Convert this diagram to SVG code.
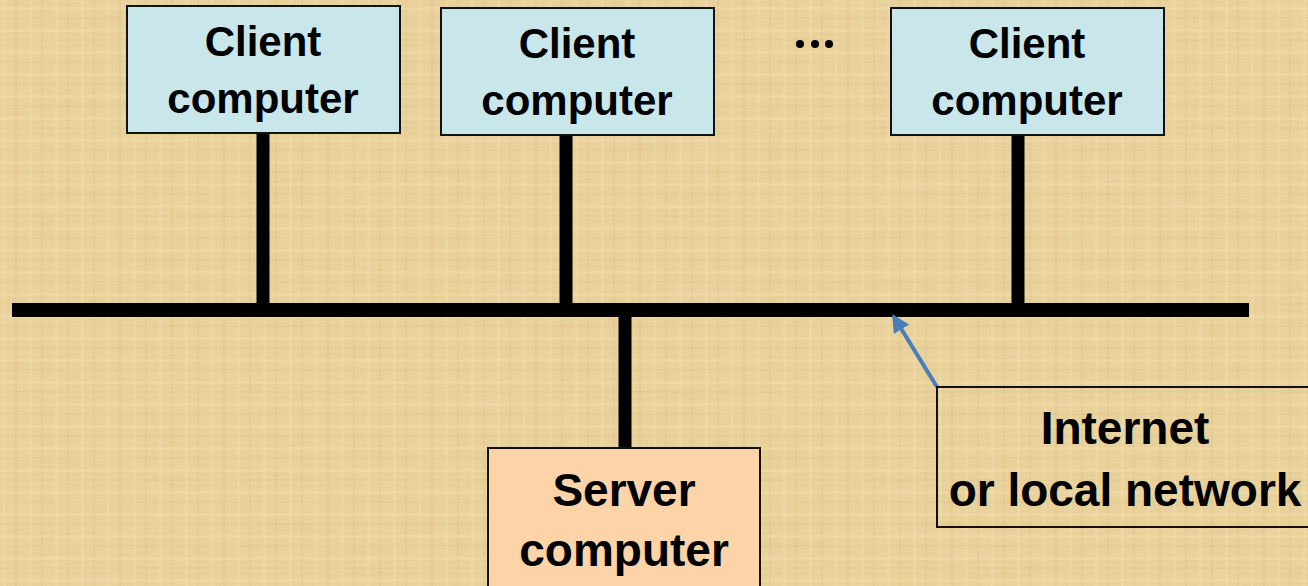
<svg xmlns="http://www.w3.org/2000/svg" width="1308" height="586" viewBox="0 0 1308 586">
  <defs>
    <style>
      .client { fill: #C9E6EA; stroke: #111; stroke-width: 2; }
      .server { fill: #FCD4A8; stroke: #111; stroke-width: 2; }
      .label-box { fill: none; stroke: #111; stroke-width: 2; }
      .wire { stroke: #000; stroke-width: 14; fill: none; }
      .drop { stroke: #000; stroke-width: 13; fill: none; }
      .pointer { stroke: #4A7EBB; stroke-width: 4; fill: none; }
      text { font-family: "Liberation Sans", Arial, sans-serif; font-weight: bold; fill: #000; text-anchor: middle; }
      .t42 { font-size: 42px; }
      .t46 { font-size: 46px; }
    </style>
    <marker id="arrowhead" viewBox="0 0 10 10" refX="8" refY="5" markerWidth="4.5" markerHeight="4.5" orient="auto">
      <path d="M0,0 L10,5 L0,10 z" fill="#4A7EBB"/>
    </marker>
    <!-- parchment weave -->
    <pattern id="weave" width="26" height="22" patternUnits="userSpaceOnUse">
      <rect width="26" height="22" fill="#E8CF97"/>
      <rect x="3" width="3" height="22" fill="#F1DDAA" opacity="0.45"/>
      <rect x="15" width="2" height="22" fill="#D8BC82" opacity="0.3"/>
      <rect y="7" width="26" height="3" fill="#F2E0AF" opacity="0.35"/>
      <rect y="17" width="26" height="2" fill="#D6BA80" opacity="0.25"/>
    </pattern>
    <filter id="grain" x="0" y="0" width="100%" height="100%">
      <feTurbulence type="fractalNoise" baseFrequency="0.015 0.1" numOctaves="2" seed="4" result="n"/>
      <feColorMatrix in="n" type="matrix" values="0 0 0 0 0.88  0 0 0 0 0.76  0 0 0 0 0.5  0 0 0 0.4 0"/>
    </filter>
  </defs>

  <!-- background -->
  <rect width="1308" height="586" fill="url(#weave)"/>
  <rect width="1308" height="586" filter="url(#grain)" opacity="0.6"/>

  <!-- connectors -->
  <g id="connectors">
    <line class="wire" x1="12" y1="310" x2="1249" y2="310"/>
    <line class="drop" x1="263" y1="133" x2="263" y2="304"/>
    <line class="drop" x1="566" y1="135" x2="566" y2="304"/>
    <line class="drop" x1="1018" y1="135" x2="1018" y2="304"/>
    <line class="drop" x1="625" y1="316" x2="625" y2="448"/>
    <line class="pointer" x1="937" y1="387" x2="894" y2="317" marker-end="url(#arrowhead)"/>
  </g>

  <g id="client1">
    <rect class="client" x="127" y="6" width="273" height="127"/>
    <text class="t42" x="263" y="56">Client</text>
    <text class="t42" x="263" y="113">computer</text>
  </g>

  <g id="client2">
    <rect class="client" x="441" y="8" width="273" height="127"/>
    <text class="t42" x="577" y="58">Client</text>
    <text class="t42" x="577" y="115">computer</text>
  </g>

  <g id="ellipsis">
    <circle cx="800" cy="44" r="4"/>
    <circle cx="815" cy="44" r="4"/>
    <circle cx="829" cy="44" r="4"/>
  </g>

  <g id="client3">
    <rect class="client" x="891" y="8" width="273" height="127"/>
    <text class="t42" x="1027" y="58">Client</text>
    <text class="t42" x="1027" y="115">computer</text>
  </g>

  <g id="server">
    <rect class="server" x="488" y="448" width="272" height="150"/>
    <text class="t46" x="624" y="506">Server</text>
    <text class="t46" x="624" y="566">computer</text>
  </g>

  <g id="network-label">
    <rect class="label-box" x="937" y="387" width="380" height="140"/>
    <text class="t46" x="1125" y="444">Internet</text>
    <text class="t46" x="1125" y="506">or local network</text>
  </g>
</svg>
